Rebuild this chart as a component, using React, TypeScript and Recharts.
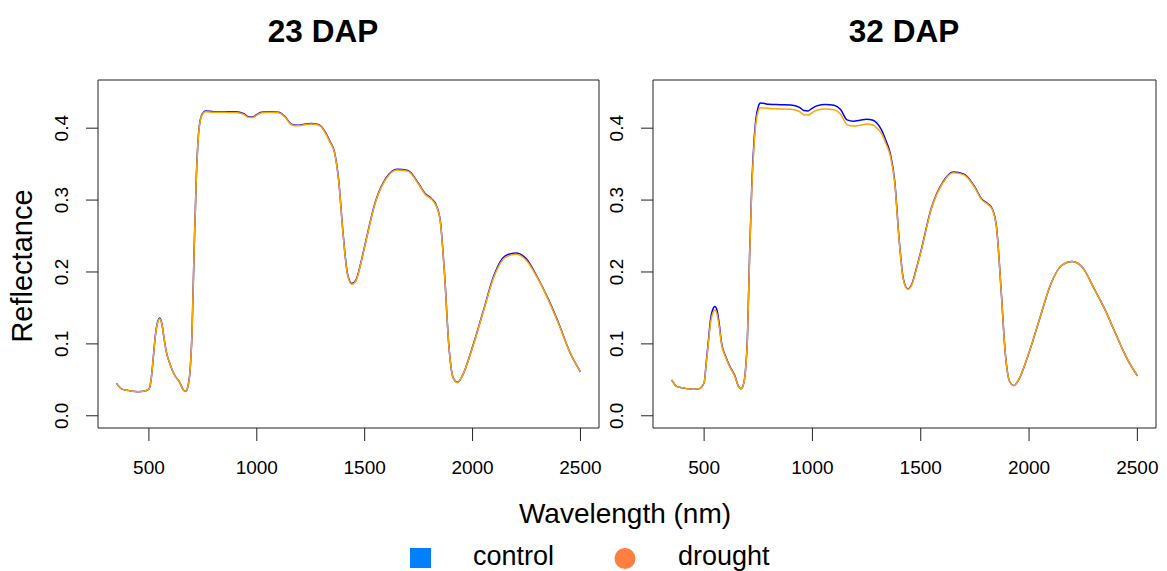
import { LineChart, Line, XAxis, YAxis, ReferenceArea } from 'recharts';

const wavelengths = [
  350, 375, 400, 425, 450, 475, 500, 510, 520, 530, 540, 550, 560, 570, 580, 600, 620, 640, 660, 670,
  680, 690, 700, 710, 720, 730, 740, 750, 760, 800, 850, 900, 940, 960, 980, 1000, 1020, 1060, 1100, 1130,
  1160, 1190, 1220, 1250, 1280, 1300, 1320, 1340, 1360, 1380, 1400, 1420, 1440, 1460, 1480, 1500, 1550, 1600, 1650, 1700,
  1750, 1780, 1810, 1830, 1850, 1870, 1890, 1910, 1930, 1950, 2000, 2050, 2100, 2150, 2200, 2250, 2300, 2350, 2400, 2450,
  2500,
];

const control23 = [
  0.045, 0.037, 0.0355, 0.034, 0.0335, 0.034, 0.037, 0.05, 0.08, 0.112, 0.13, 0.136, 0.128, 0.108, 0.09, 0.07, 0.056, 0.048, 0.036, 0.034,
  0.04, 0.06, 0.118, 0.236, 0.334, 0.393, 0.414, 0.421, 0.424, 0.423, 0.4228, 0.4227, 0.42, 0.416, 0.4155, 0.419, 0.422, 0.4228, 0.4222, 0.4165,
  0.4055, 0.404, 0.4055, 0.4065, 0.4055, 0.402, 0.393, 0.381, 0.367, 0.326, 0.253, 0.198, 0.184, 0.189, 0.21, 0.236, 0.298, 0.331, 0.343, 0.341,
  0.323, 0.309, 0.302, 0.294, 0.272, 0.198, 0.098, 0.053, 0.0465, 0.054, 0.096, 0.146, 0.196, 0.222, 0.2265, 0.218, 0.193, 0.163, 0.128, 0.089,
  0.061,
];

const drought23 = [
  0.045, 0.037, 0.0355, 0.034, 0.0335, 0.034, 0.037, 0.05, 0.08, 0.111, 0.129, 0.135, 0.127, 0.108, 0.09, 0.07, 0.056, 0.048, 0.036, 0.034,
  0.04, 0.06, 0.118, 0.235, 0.333, 0.392, 0.413, 0.42, 0.423, 0.4222, 0.422, 0.4218, 0.4192, 0.4152, 0.4148, 0.4182, 0.4212, 0.422, 0.4213, 0.4158,
  0.4048, 0.4032, 0.4047, 0.4057, 0.4047, 0.4013, 0.392, 0.38, 0.366, 0.325, 0.252, 0.197, 0.183, 0.188, 0.209, 0.235, 0.297, 0.33, 0.342, 0.34,
  0.322, 0.308, 0.301, 0.293, 0.271, 0.197, 0.098, 0.053, 0.046, 0.054, 0.095, 0.145, 0.194, 0.22, 0.2245, 0.216, 0.192, 0.162, 0.127, 0.089,
  0.061,
];

const control32 = [
  0.05, 0.0405, 0.039, 0.0375, 0.037, 0.0375, 0.046, 0.075, 0.105, 0.135, 0.148, 0.152, 0.146, 0.127, 0.102, 0.082, 0.068, 0.057, 0.04, 0.0375,
  0.042, 0.06, 0.11, 0.225, 0.32, 0.38, 0.415, 0.43, 0.435, 0.4333, 0.4327, 0.4322, 0.429, 0.4245, 0.424, 0.428, 0.431, 0.433, 0.432, 0.426,
  0.4115, 0.4098, 0.411, 0.4125, 0.411, 0.406, 0.397, 0.382, 0.364, 0.326, 0.246, 0.19, 0.1765, 0.184, 0.205, 0.228, 0.29, 0.324, 0.339, 0.336,
  0.318, 0.302, 0.295, 0.288, 0.262, 0.18, 0.088, 0.048, 0.042, 0.049, 0.088, 0.136, 0.183, 0.209, 0.2145, 0.205, 0.177, 0.148, 0.114, 0.081,
  0.0555,
];

const drought32 = [
  0.05, 0.0405, 0.039, 0.0375, 0.037, 0.0375, 0.046, 0.073, 0.102, 0.13, 0.143, 0.147, 0.141, 0.123, 0.1, 0.081, 0.067, 0.056, 0.04, 0.0375,
  0.042, 0.06, 0.108, 0.222, 0.315, 0.374, 0.409, 0.424, 0.4285, 0.4275, 0.4268, 0.4262, 0.4232, 0.4188, 0.4182, 0.4218, 0.4248, 0.4265, 0.4255, 0.4195,
  0.405, 0.403, 0.4042, 0.4057, 0.4045, 0.3995, 0.392, 0.378, 0.361, 0.324, 0.245, 0.189, 0.176, 0.183, 0.204, 0.227, 0.289, 0.323, 0.338, 0.335,
  0.317, 0.301, 0.294, 0.287, 0.261, 0.18, 0.088, 0.048, 0.042, 0.049, 0.088, 0.136, 0.183, 0.209, 0.2145, 0.205, 0.177, 0.148, 0.114, 0.081,
  0.0555,
];

const xTicks = [500, 1000, 1500, 2000, 2500];
const yTicks = [0, 0.1, 0.2, 0.3, 0.4];
const xDomain: [number, number] = [264, 2586];
const yDomain: [number, number] = [-0.017, 0.467];

const font = '"Liberation Sans", Arial, Helvetica, sans-serif';

function YTick(p: any) {
  return (
    <text x={p.x} y={p.y} transform={`rotate(-90, ${p.x}, ${p.y})`} textAnchor="middle"
      fontSize={19} fill="#000" fontFamily={font}>
      {p.payload.value.toFixed(1)}
    </text>
  );
}

function Panel({ control, drought, left, width, yWidth, right }: {
  control: number[]; drought: number[]; left: number; width: number; yWidth: number; right: number;
}) {
  const data = wavelengths.map((w, i) => ({ w, control: control[i], drought: drought[i] }));
  return (
    <div style={{ position: 'absolute', left, top: 0 }}>
      <LineChart width={width} height={480} data={data} margin={{ top: 80, right, bottom: 0, left: 0 }}>
        <XAxis dataKey="w" type="number" domain={xDomain} ticks={xTicks} allowDataOverflow height={52}
          axisLine={false} tickSize={13} tickMargin={20} tickLine={{ stroke: '#222' }}
          tick={{ fontSize: 19, fill: '#000', fontFamily: font }} />
        <YAxis type="number" domain={yDomain} ticks={yTicks} allowDataOverflow width={yWidth}
          axisLine={false} tickSize={12} tickMargin={18} tickLine={{ stroke: '#222' }} tick={<YTick />} />
        <ReferenceArea x1={xDomain[0]} x2={xDomain[1]} y1={yDomain[0]} y2={yDomain[1]}
          fill="none" fillOpacity={0} stroke="#222" strokeWidth={1} />
        <Line type="monotone" dataKey="control" stroke="#0000FF" strokeWidth={1.5} dot={false} isAnimationActive={false} />
        <Line type="monotone" dataKey="drought" stroke="#FFA500" strokeWidth={1.5} dot={false} isAnimationActive={false} />
      </LineChart>
    </div>
  );
}

export default function App() {
  return (
    <div style={{ position: 'absolute', left: 0, top: 0, width: 1167, height: 571, background: '#fff', overflow: 'hidden', fontFamily: font }}>
      <Panel control={control23} drought={drought23} left={0} width={620} yWidth={98} right={21} />
      <Panel control={control32} drought={drought32} left={560} width={607} yWidth={93} right={11} />
      <svg width={1167} height={571} style={{ position: 'absolute', left: 0, top: 0, pointerEvents: 'none' }}>
        <text x={323} y={42} textAnchor="middle" fontSize={31.5} fontWeight="bold" fontFamily={font}>23 DAP</text>
        <text x={904} y={42} textAnchor="middle" fontSize={31.5} fontWeight="bold" fontFamily={font}>32 DAP</text>
        <text x={625} y={523} textAnchor="middle" fontSize={28} fontFamily={font}>Wavelength (nm)</text>
        <text x={32} y={266} transform="rotate(-90, 32, 266)" textAnchor="middle" fontSize={29} fontFamily={font}>Reflectance</text>
        <rect x={410} y={548} width={21} height={20} fill="#0080FF" />
        <text x={473} y={565} fontSize={27} fontFamily={font}>control</text>
        <circle cx={625} cy={558.5} r={10.5} fill="#FF7F40" />
        <text x={678} y={565} fontSize={27} fontFamily={font}>drought</text>
      </svg>
    </div>
  );
}
